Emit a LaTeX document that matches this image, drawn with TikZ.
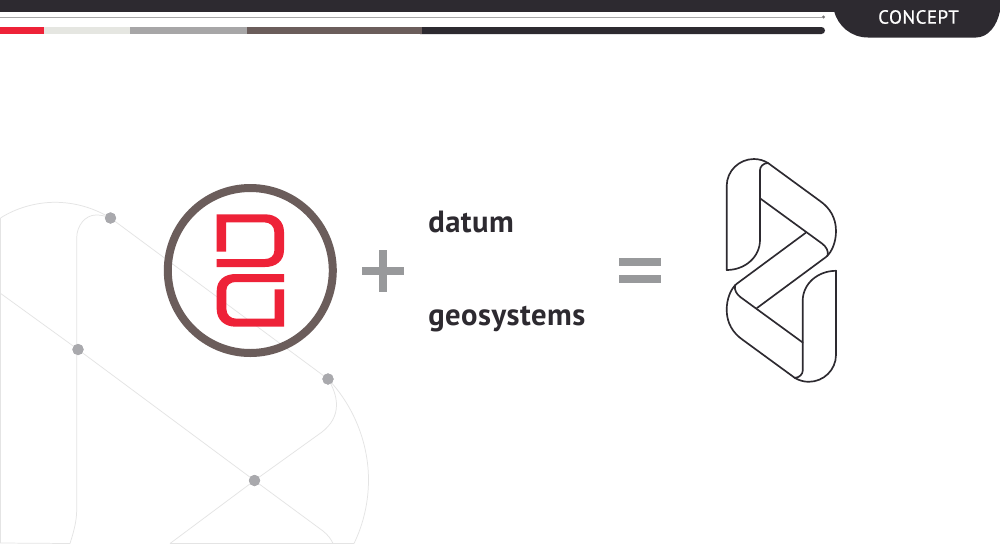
\documentclass[tikz,border=0pt]{standalone}
\usepackage{fontspec}
\setmainfont{PT Sans}
\newfontfamily\wordfont[LetterSpace=1.6,FakeStretch=1.0]{PT Sans Bold}
\newfontfamily\tabfont[LetterSpace=2.5,FakeBold=0.6]{PT Sans}
\definecolor{ink}{HTML}{2D2A30}
\definecolor{brownish}{HTML}{6B5D5B}
\definecolor{redmark}{HTML}{EE2238}
\definecolor{pale}{HTML}{E5E6E1}
\definecolor{midgrey}{HTML}{A7A6A7}
\definecolor{signgrey}{HTML}{98999B}
\definecolor{ghost}{HTML}{E4E4E4}
\definecolor{dotgrey}{HTML}{A9A9AD}
\tikzset{
  ghostline/.style={draw=ghost,line width=0.55pt},
  ghostdot/.style={circle,fill=dotgrey,inner sep=0pt,minimum size=8.4pt},
  logoline/.style={draw=ink,line width=1.25pt,line join=round,line cap=round},
  word/.style={anchor=base west,inner sep=0pt,text=ink,font=\fontsize{23}{23}\selectfont\wordfont}
}
\begin{document}
\begin{tikzpicture}[x=0.75pt,y=-0.75pt]
\useasboundingbox (0,0) rectangle (1000,544);
\fill[white] (0,0) rectangle (1000,544);
% ghost network
\node[ghostdot] (d1) at (110.5,218) {};
\node[ghostdot] (d2) at (78,349.5) {};
\node[ghostdot] (d3) at (328,379) {};
\node[ghostdot] (d4) at (254.5,480.5) {};
\coordinate (tl) at (0.5,218);
\coordinate (bl) at (0.5,543);
\coordinate (bm) at (170,543.5);
\coordinate (br) at (354,543.5);
\coordinate (ll) at (0,293);
\draw[ghostline] (tl) .. controls (16,208) and (36,202.3) .. (55,202.3) .. controls (75,202.3) and (94,208) .. (d1.center);
\draw[ghostline] (tl) -- (bl) -- (70,543.5);
\draw[ghostline] (d1.center) .. controls (104,215.5) and (100,215) .. (96,215) .. controls (85,215) and (76.7,226) .. (76.7,238) -- (76.7,510) .. controls (76.7,522) and (73,534) .. (70,543.5);
\draw[ghostline] (d1.center) -- (d3.center);
\draw[ghostline] (ll) -- (d2.center) -- (d4.center) -- (323,531) .. controls (328,535) and (331,539) .. (333,543.5);
\draw[ghostline] (bm) -- (br);
\draw[ghostline] (bm) -- (d4.center) -- (322,432) .. controls (331,425) and (336.5,416) .. (336.5,405) .. controls (336.5,396) and (333,387) .. (d3.center);
\draw[ghostline] (d3.center) .. controls (353,405) and (368.5,442) .. (368.5,480) .. controls (368.5,503) and (363,525) .. (br);
\node[ghostdot] at (d1) {};
\node[ghostdot] at (d2) {};
\node[ghostdot] at (d3) {};
\node[ghostdot] at (d4) {};
% header
\fill[ink] (0,0) rectangle (1000,11.5);
\fill[ink] (834,0) -- (834,11) .. controls (838,26) and (851,37.5) .. (868,37.5) -- (976,37.5) .. controls (988,37.5) and (997,26) .. (1000,11) -- (1000,0) -- cycle;
\node[text=white,inner sep=0pt,font=\fontsize{14.2}{14.2}\selectfont\tabfont] (tab) at (918.5,17) {CONCEPT};
\node[circle,fill=midgrey!70!black,inner sep=0pt,minimum size=2.6pt] (tick) at (823.5,17) {};
\coordinate (ruleL) at (0,17);
\draw[midgrey,line width=0.75pt] (ruleL) -- (tick);
\fill[ink] (420,27) -- (821.5,27) arc[start angle=-90,end angle=90,radius=3.5] -- (420,34) -- cycle;
\fill[brownish] (247,27) rectangle (422,34);
\fill[midgrey] (130,27) rectangle (247,34);
\fill[pale] (43.5,27) rectangle (130,34);
\fill[redmark] (0,27) rectangle (43.5,34);
% circle logo
\node[circle,draw=brownish,line width=6pt,minimum size=123.75pt,inner sep=0pt] (ring) at (250.3,270.5) {};
\foreach \a in {0,180}{
\fill[redmark,rotate around={\a:(250.35,270.5)}] (216.7,214.3) -- (216.7,251.7) -- (226,251.7) -- (226,222.3) -- (264,222.3) .. controls (270,222.3) and (274.3,226) .. (274.3,232) -- (274.3,251) .. controls (274.3,256) and (270,259) .. (265,259) -- (216.7,259) -- (216.7,267) -- (265,267) .. controls (276,267) and (284,261) .. (284,250) -- (284,232) .. controls (284,221) and (276,214.3) .. (265,214.3) -- cycle;
}
% plus and equals
\fill[signgrey] (362,267.3) rectangle (404,275);
\fill[signgrey] (379,250) rectangle (386.7,291.7);
\fill[signgrey] (618.7,258.3) rectangle (661,266);
\fill[signgrey] (618.7,275.3) rectangle (661,283);
% words
\node[word] (w1) at (428,232) {datum};
\node[word] (w2) at (428,325) {geosystems};
% right logo
\foreach \a in {0,180}{
\begin{scope}[rotate around={\a:(781.35,270.4)}]
\draw[logoline] (726.7,270) -- (726.7,186) .. controls (726.7,171) and (739,159) .. (754,159) .. controls (759,159) and (764,160.5) .. (768,163) -- (820,201) .. controls (830,208) and (836,218) .. (836,231) .. controls (836,242) and (832,252) .. (826,257) -- (757,308);
\draw[logoline] (726.7,270) .. controls (745,270) and (760,257) .. (760,240) -- (760,170) .. controls (760,167) and (763,163) .. (768,163);
\draw[logoline] (760,198.3) -- (822,243.5) .. controls (826,246.5) and (829,251) .. (827.5,256);
\end{scope}
}
\end{tikzpicture}
\end{document}
